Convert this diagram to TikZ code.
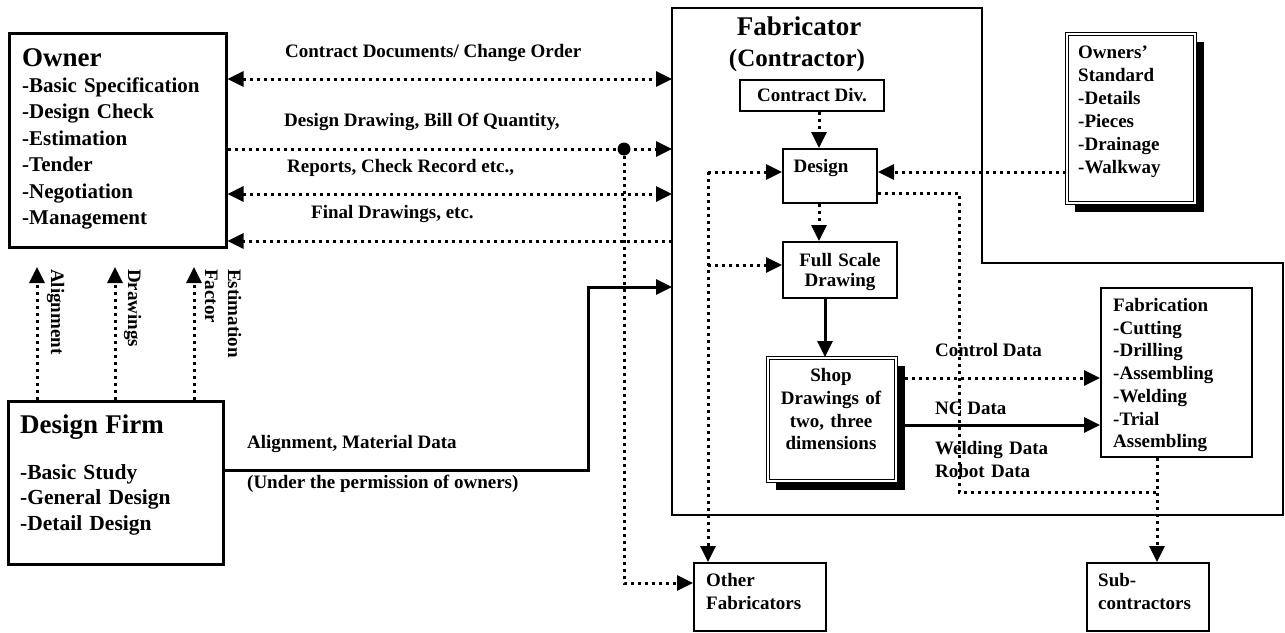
\documentclass[tikz,border=0pt]{standalone}
\usepackage{fontspec}
\setmainfont{Liberation Serif}
\usetikzlibrary{arrows.meta}
\begin{document}
\begin{tikzpicture}[x=1pt,y=-1pt,
  every node/.style={font=\bfseries\fontsize{19}{22.8}\selectfont, inner sep=0pt},
  tip/.style={-{Triangle[length=16pt,width=15pt]}},
  tips/.style={{Triangle[length=16pt,width=15pt]}-{Triangle[length=16pt,width=15pt]}},
  dotl/.style={line width=3pt, dash pattern=on 3pt off 4pt},
  soll/.style={line width=3pt},
  box/.style={draw, line width=2pt, anchor=north west},
  bigbox/.style={draw, line width=2.5pt, anchor=north west},
  dbox/.style={draw, fill=white, double, double distance=2pt, line width=1pt, anchor=north west},
  shadow/.style={fill=black},
  txt/.style={anchor=base west, align=left, text width=220pt}
]
\useasboundingbox (0,0) rectangle (1285,632);

% ---- Fabricator outline
\draw[line width=2.5pt] (672,8) -- (982,8) -- (982,263) -- (1283,263) -- (1283,515) -- (672,515) -- cycle;
\node[anchor=base] (fabT1) at (799,35) {\fontsize{27}{29}\selectfont Fabricator};
\node[anchor=base] (fabT2) at (797,66.5) {\fontsize{25}{28}\selectfont (Contractor)};

% ---- Owner
\node[bigbox, minimum width=217pt, minimum height=214pt] (owner) at (8,32) {};
\node[txt, font=\bfseries\fontsize{21}{26.4}\selectfont] (ownerT) at (22,66)
  {{\fontsize{27}{29}\selectfont Owner}\\-Basic Specification\\-Design Check\\-Estimation\\-Tender\\-Negotiation\\-Management};

% ---- Design firm
\node[bigbox, minimum width=215pt, minimum height=163pt] (dfirm) at (7,400) {};
\node[txt, font=\bfseries\fontsize{21.5}{25.5}\selectfont] (dfirmT) at (20,433)
  {{\fontsize{27}{29}\selectfont Design Firm}\\[20.5pt]-Basic Study\\-General Design\\-Detail Design};

% ---- Inner boxes
\node[box, minimum width=144pt, minimum height=31pt] (cdiv) at (739,79) {Contract Div.};
\node[box, minimum width=94pt, minimum height=54pt] (design) at (782,148) {};
\node[anchor=base] (designT) at (821,172.5) {Design};
\node[box, minimum width=114pt, minimum height=56pt] (fscale) at (782,241) {};
\node[anchor=base, align=center, text width=110pt, font=\bfseries\fontsize{19}{20.5}\selectfont] (fscaleT) at (840,266) {Full Scale\\Drawing};

% shop drawings with shadow
\fill[shadow] (776,366) rectangle (905,490);
\node[dbox, minimum width=128pt, minimum height=123pt] (shop) at (767,357) {};
\node[anchor=base, align=center, text width=128pt] (shopT) at (831,381.5) {Shop\\Drawings of\\two, three\\dimensions};

% owners' standard with shadow
\fill[shadow] (1075,42) rectangle (1204,212);
\node[dbox, minimum width=128pt, minimum height=169pt] (ostd) at (1066,33) {};
\node[txt, text width=120pt, font=\bfseries\fontsize{19}{23}\selectfont] (ostdT) at (1078,58)
  {Owners'\\Standard\\-Details\\-Pieces\\-Drainage\\-Walkway};

% fabrication
\node[box, minimum width=151pt, minimum height=169pt] (fab) at (1100,287) {};
\node[txt, text width=140pt, font=\bfseries\fontsize{19}{22.7}\selectfont] (fabT) at (1113,311.5)
  {Fabrication\\-Cutting\\-Drilling\\-Assembling\\-Welding\\-Trial\\Assembling};

% other fabricators and sub-contractors
\node[box, minimum width=132pt, minimum height=68pt] (ofab) at (693,562) {};
\node[txt, text width=125pt, font=\bfseries\fontsize{19}{23.3}\selectfont] (ofabT) at (706,586.5) {Other\\Fabricators};
\node[box, minimum width=122pt, minimum height=68pt] (sub) at (1086,562) {};
\node[txt, text width=115pt, font=\bfseries\fontsize{19}{23.3}\selectfont] (subT) at (1098,586.5) {Sub-\\contractors};

% ---- coordinates on fabricator boundary
\coordinate (fabA) at (672,79);
\coordinate (fabB) at (672,149);
\coordinate (fabC) at (672,194);
\coordinate (fabD) at (672,241);
\coordinate (fabE) at (672,287);
\coordinate (junc) at (624,149);
\coordinate (jdown) at (624,583);
\coordinate (dfLow) at (588,470);
\coordinate (dfHigh) at (588,287);

% ---- owner <-> fabricator
\draw[dotl, tips] (owner.east |- fabA) -- (fabA);
\draw[dotl, tip] (owner.east |- fabB) -- (fabB);
\fill (junc) circle (6.5pt);
\draw[dotl, tips] (owner.east |- fabC) -- (fabC);
\draw[dotl, tip] (fabD) -- (owner.east |- fabD);
\draw[dotl, tip] (junc) -- (jdown) -- (ofab.west |- jdown);

\node[anchor=base west] (lCD) at (285,57.5) {Contract Documents/ Change Order};
\node[anchor=base west] (lDD) at (284,126) {Design Drawing, Bill Of Quantity,};
\node[anchor=base west] (lRep) at (287,172) {Reports, Check Record etc.,};
\node[anchor=base west] (lFin) at (311,218) {Final Drawings, etc.};

% ---- design firm -> owner
\coordinate (up1) at (37,267);
\coordinate (up2) at (115,267);
\coordinate (up3) at (194,267);
\draw[dotl, tip] (dfirm.north -| up1) -- (up1);
\draw[dotl, tip] (dfirm.north -| up2) -- (up2);
\draw[dotl, tip] (dfirm.north -| up3) -- (up3);
\node[rotate=-90, anchor=base west] (lAl) at (51,269) {Alignment};
\node[rotate=-90, anchor=base west] (lDr) at (128,269) {Drawings};
\node[rotate=-90, anchor=base west, align=left, text width=100pt] (lEs) at (228,269) {Estimation\\Factor};

% ---- design firm -> fabricator
\draw[soll, tip] (dfirm.east |- dfLow) -- (dfLow) -- (dfHigh) -- (fabE);
\node[anchor=base west] (lAMD) at (247,448) {Alignment, Material Data};
\node[anchor=base west] (lUnd) at (247,488) {(Under the permission of owners)};

% ---- inside fabricator
\coordinate (cdx) at (819,0);
\draw[dotl, tip] (cdiv.south -| cdx) -- (design.north -| cdx);
\draw[dotl, tip] (design.south -| cdx) -- (fscale.north -| cdx);
\coordinate (fsx) at (825,0);
\draw[soll, tip] (fscale.south -| fsx) -- (shop.north -| fsx);

\coordinate (dy) at (0,172);
\draw[dotl, tip] (ostd.west |- dy) -- (design.east |- dy);
\coordinate (lloopTop) at (708,172);
\coordinate (lloopMid) at (708,265);
\draw[dotl, tip] (lloopTop) -- (design.west |- lloopTop);
\draw[dotl, tip] (lloopMid) -- (fscale.west |- lloopMid);
\draw[dotl, tip] (lloopTop) -- (ofab.north -| lloopTop);

\coordinate (rl1) at (959,193);
\coordinate (rl2) at (959,492);
\coordinate (subx) at (1157,492);
\draw[dotl] (design.east |- rl1) -- (rl1) -- (rl2) -- (subx);
\draw[dotl, tip] (fab.south -| subx) -- (sub.north -| subx);

\coordinate (sy1) at (905,378);
\coordinate (sy2) at (905,425);
\draw[dotl, tip] (sy1) -- (fab.west |- sy1);
\draw[soll, tip] (sy2) -- (fab.west |- sy2);
\node[anchor=base west] (lCtl) at (935,356.5) {Control Data};
\node[anchor=base west] (lNC) at (935,414) {NC Data};
\node[txt, text width=130pt, font=\bfseries\fontsize{19}{23}\selectfont] (lWeld) at (935,454.5) {Welding Data\\Robot Data};
\end{tikzpicture}
\end{document}
